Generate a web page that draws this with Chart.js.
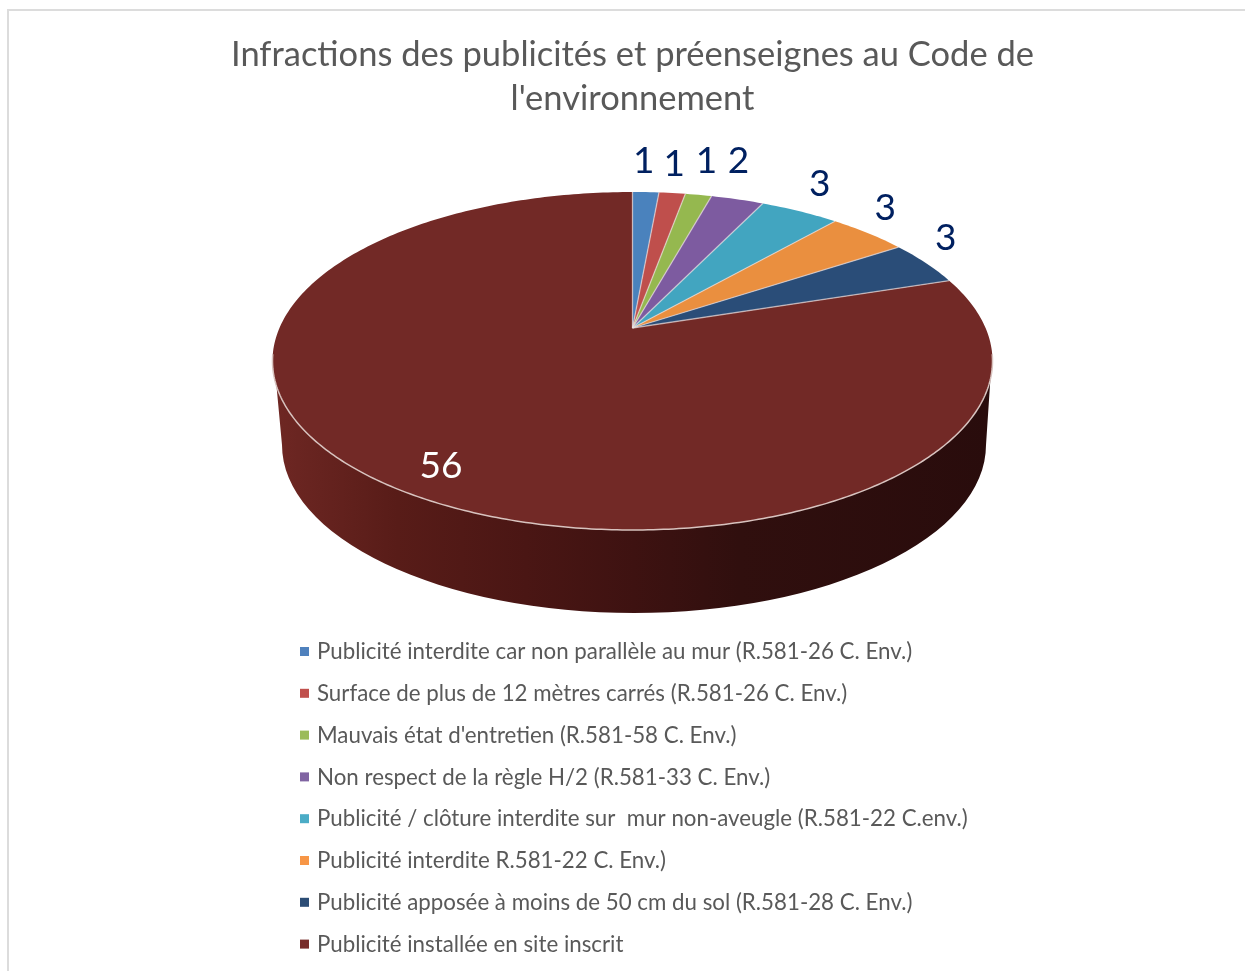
<!DOCTYPE html>
<html><head><meta charset="utf-8">
<style>html,body{margin:0;padding:0;background:#fff;overflow:hidden}
#w{position:absolute;left:0;top:0;width:1245px;height:971px}
#f{position:absolute;left:7px;top:9px;width:1240px;height:970px;border:2px solid #dcdcdc;box-sizing:border-box}</style>
<script src="https://cdn.jsdelivr.net/npm/chart.js@4"></script>
</head><body><div id="f"></div><div id="w"><canvas id="c" width="1245" height="971"></canvas></div>
<script>
const titleLines = ["Infractions des publicités et préenseignes au Code de", "l'environnement"];
const categories = [
 "Publicité interdite car non parallèle au mur (R.581-26 C. Env.)",
 "Surface de plus de 12 mètres carrés (R.581-26 C. Env.)",
 "Mauvais état d'entretien (R.581-58 C. Env.)",
 "Non respect de la règle H/2 (R.581-33 C. Env.)",
 "Publicité / clôture interdite sur  mur non-aveugle (R.581-22 C.env.)",
 "Publicité interdite R.581-22 C. Env.)",
 "Publicité apposée à moins de 50 cm du sol (R.581-28 C. Env.)",
 "Publicité installée en site inscrit"];
const values = [1,1,1,2,3,3,3,56];
const colors = ["#4a82bd","#bf4f4c","#95b84f","#7d5ba0","#42a5c0","#ea8f3f","#2a4d78","#722926"];
const legendColors = ["#4f81bd","#c0504d","#9bbb59","#8064a2","#4bacc6","#f79646","#2c4d75","#772c2a"];
const labelColors = ["#002060","#002060","#002060","#002060","#002060","#002060","#002060","#ffffff"];
const labelNudge = [[-2,-31],[2,-29],[8,-34],[1,-38],[20,-27],[17,-25],[20,-25],[55,-18]];

// projective view of the pie's disc: keeps the apex above the rim ellipse centre
const P = {apexY:328, topY:192, botY:530, halfW:360, cx:632.5};
P.c=(2*P.apexY-P.topY-P.botY)/(P.botY-P.topY);
P.a=P.botY*(1+P.c)-P.apexY;
P.b=P.apexY;
P.k=P.halfW*Math.sqrt(1-P.c*P.c);
function proj(u,v){const d=1+P.c*v;return [P.cx+P.k*u/d,(P.a*v+P.b)/d];}
function rim(t){return proj(Math.cos(t),Math.sin(t));}

const pie3d = {
 id:'pie3d',
 beforeDatasetDraw(chart,args){
  const ctx=chart.ctx, arcs=chart.getDatasetMeta(args.index).data;
  ctx.save();
  // side wall
  const wall={cx:634,cy:445,rx:352,ry:168};
  const g=ctx.createLinearGradient(276,0,990,0);
  [[0,'#6e2723'],[0.17,'#581c18'],[0.35,'#4a1614'],[0.5,'#3e1211'],[0.65,'#300f0e'],[1,'#290c0c']].forEach(s=>g.addColorStop(s[0],s[1]));
  ctx.beginPath();
  ctx.moveTo(275,370);
  ctx.lineTo(wall.cx-wall.rx,wall.cy);
  ctx.ellipse(wall.cx,wall.cy,wall.rx,wall.ry,0,Math.PI,0,true);
  ctx.lineTo(991,370);
  ctx.closePath();
  ctx.fillStyle=g; ctx.fill();
  // top face, one path per arc element
  arcs.forEach((a)=>{
   const n=Math.max(4,Math.ceil((a.endAngle-a.startAngle)*60));
   ctx.beginPath();
   const ap=proj(0,0); ctx.moveTo(ap[0],ap[1]);
   for(let j=0;j<=n;j++){const p=rim(a.startAngle+(a.endAngle-a.startAngle)*j/n);ctx.lineTo(p[0],p[1]);}
   ctx.closePath();
   ctx.fillStyle=a.options.backgroundColor; ctx.fill();
  });
  // pale separators
  ctx.strokeStyle='rgba(235,225,225,0.65)'; ctx.lineWidth=1.3;
  arcs.forEach((a,i)=>{
   if(i===arcs.length-1) return;
   const ap=proj(0,0), p=rim(a.endAngle);
   ctx.beginPath();ctx.moveTo(ap[0],ap[1]);ctx.lineTo(p[0],p[1]);ctx.stroke();
  });
  {const a=arcs[0],ap=proj(0,0),p=rim(a.startAngle);ctx.beginPath();ctx.moveTo(ap[0],ap[1]);ctx.lineTo(p[0],p[1]);ctx.stroke();}
  // pale front rim
  ctx.strokeStyle='#d8c3bf'; ctx.lineWidth=1.5; ctx.beginPath();
  for(let j=0;j<=240;j++){const t=0.05*Math.PI+(0.9*Math.PI)*j/240;const p=rim(t);j?ctx.lineTo(p[0],p[1]):ctx.moveTo(p[0],p[1]);}
  ctx.stroke();
  ctx.restore();
  return false;
 },
 afterDraw(chart){
  const ctx=chart.ctx, arcs=chart.getDatasetMeta(0).data;
  ctx.save();
  // value labels
  ctx.font='37px Lato'; ctx.textAlign='center'; ctx.textBaseline='middle';
  arcs.forEach((a,i)=>{
   const p=rim((a.startAngle+a.endAngle)/2);
   ctx.fillStyle=labelColors[i];
   ctx.fillText(String(values[i]),p[0]+labelNudge[i][0],p[1]+labelNudge[i][1]);
  });
  // legend
  ctx.font='22.3px Lato'; ctx.textAlign='left'; ctx.textBaseline='middle';
  categories.forEach((c,i)=>{
   const y=652+i*41.8;
   ctx.fillStyle=legendColors[i]; ctx.fillRect(300,y-5,9,9);
   ctx.fillStyle='#595959'; ctx.fillText(c,317,y);
  });
  ctx.restore();
 }
};

new Chart(document.getElementById('c'),{
 type:'pie',
 data:{labels:categories,datasets:[{data:values,backgroundColor:colors,borderWidth:0}]},
 options:{
  responsive:false,animation:false,
  layout:{padding:{left:20,top:22,bottom:400}},
  plugins:{
   legend:{display:false},tooltip:{enabled:false},
   title:{display:true,text:titleLines,color:'#595959',font:{family:'Lato',size:34.5,weight:'normal',lineHeight:1.3},padding:{top:10,bottom:10}}
  }
 },
 plugins:[pie3d]
});
</script></body></html>
